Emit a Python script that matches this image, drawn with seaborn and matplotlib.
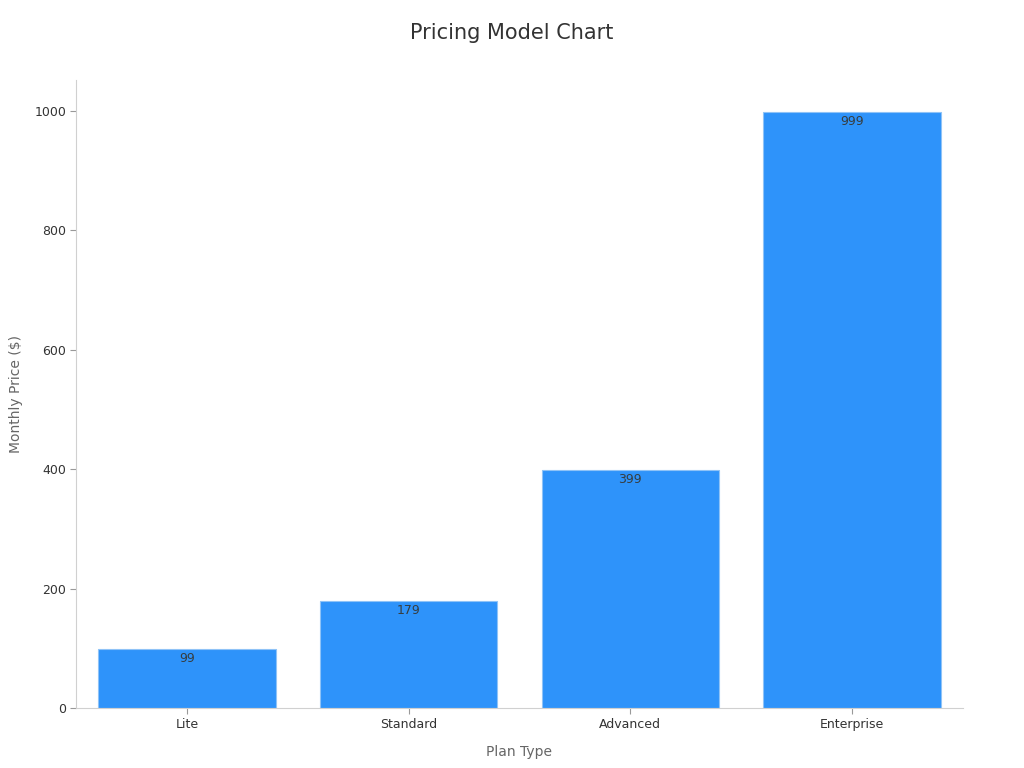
import matplotlib
matplotlib.use("Agg")
import matplotlib.pyplot as plt
import seaborn as sns
import pandas as pd

# Chart data
plans = ["Lite", "Standard", "Advanced", "Enterprise"]
prices = [99, 179, 399, 999]

df = pd.DataFrame({"plan": plans, "price": prices})

sns.set_style("white")
plt.rcParams["font.family"] = ["DejaVu Sans"]

fig = plt.figure(figsize=(10.24, 7.68), dpi=100)
ax = fig.add_axes([0.0742, 0.0781, 0.8662, 0.8177])

sns.barplot(data=df, x="plan", y="price", color="#2E93FA", saturation=1,
            width=0.8, edgecolor="#8fc3f7", linewidth=0.8, ax=ax)

# value labels just inside the top of each bar
for i, v in enumerate(prices):
    ax.text(i, v - 5, str(v), ha="center", va="top", fontsize=9, color="#373d3f")

ax.set_ylim(0, 1052)
ax.set_xlim(-0.5, 3.5)
ax.set_yticks([0, 200, 400, 600, 800, 1000])
ax.tick_params(axis="both", bottom=True, left=True, labelsize=9,
               labelcolor="#333333", color="#999999", length=4, width=0.8, pad=3)

for side in ["top", "right"]:
    ax.spines[side].set_visible(False)
for side in ["left", "bottom"]:
    ax.spines[side].set_color("#d0d0d0")
    ax.spines[side].set_linewidth(0.8)

ax.set_xlabel("Plan Type", fontsize=10, color="#666666", labelpad=10)
ax.set_ylabel("Monthly Price ($)", fontsize=10, color="#666666", labelpad=8)
fig.suptitle("Pricing Model Chart", fontsize=15, color="#333333", y=0.97)

fig.savefig("out.png", dpi=100)
